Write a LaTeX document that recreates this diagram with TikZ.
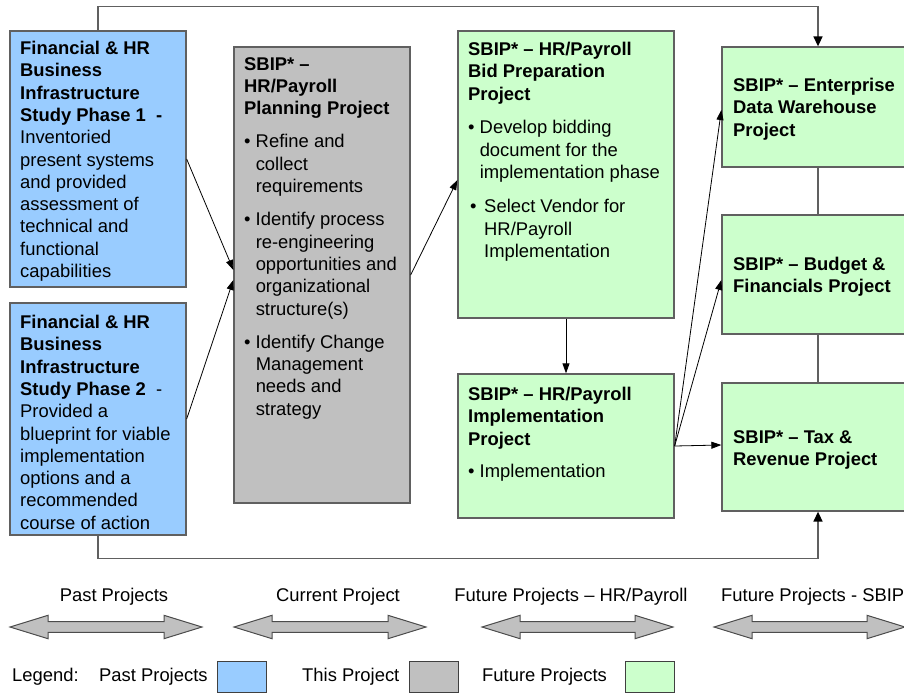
\documentclass[tikz,border=0pt]{standalone}
\usepackage{fontspec}
\setmainfont{Liberation Sans}
\usetikzlibrary{arrows.meta,calc}
\definecolor{pastblue}{HTML}{99CCFF}
\definecolor{thisgray}{HTML}{C0C0C0}
\definecolor{futgreen}{HTML}{CCFFCC}
\definecolor{edgegray}{HTML}{606060}
\tikzset{
  boxbase/.style={draw=edgegray, line width=1.3pt, inner sep=0pt, rectangle},
  pastbox/.style={boxbase, fill=pastblue},
  curbox/.style={boxbase, fill=thisgray},
  futbox/.style={boxbase, fill=futgreen},
  txt/.style={anchor=north west, inner sep=0pt, align=left, font=\fontsize{18.4}{22.3}\selectfont},
  lbl/.style={anchor=base, inner sep=0pt, font=\fontsize{18.4}{22.3}\selectfont},
  lblw/.style={anchor=base west, inner sep=0pt, font=\fontsize{18.4}{22.3}\selectfont},
  conn/.style={draw=edgegray, line width=1.5pt},
  connarr/.style={conn, -{Triangle[length=10pt,width=9pt,color=black]}},
  thinarr/.style={draw=black, line width=0.8pt, -{Triangle[length=10pt,width=7pt]}},
  legsq/.style={draw=black!75, line width=1pt, inner sep=0pt, minimum width=49pt, minimum height=31pt},
  dblarrow/.style={draw=black!70, fill=thisgray, line width=1pt}
}
\begin{document}
\begin{tikzpicture}[x=1pt,y=-1pt]
\useasboundingbox (0,0) rectangle (904,696);
\clip (0,0) rectangle (904,696);

% boxes
\node[pastbox, minimum width=176pt, minimum height=256pt] (b1) at (98,159) {};
\node[pastbox, minimum width=176pt, minimum height=232pt] (b2) at (98,419) {};
\node[curbox, minimum width=176pt, minimum height=456pt] (gp) at (322,275) {};
\node[futbox, minimum width=216pt, minimum height=287pt] (bid) at (566,174.5) {};
\node[futbox, minimum width=216pt, minimum height=144pt] (impl) at (566,446) {};
\node[futbox, minimum width=192pt, minimum height=120pt] (edw) at (818,107) {};
\node[futbox, minimum width=192pt, minimum height=119pt] (bud) at (818,274.5) {};
\node[futbox, minimum width=192pt, minimum height=128pt] (tax) at (818,447) {};

% texts
\node[txt] (t1) at (20,41) {\bfseries Financial \& HR\\ \bfseries Business\\ \bfseries Infrastructure\\ \bfseries Study Phase 1~~-\\ Inventoried\\ present systems\\ and provided\\ assessment of\\ technical and\\ functional\\ capabilities};
\node[txt] (t2) at (20,315) {\bfseries Financial \& HR\\ \bfseries Business\\ \bfseries Infrastructure\\ {\bfseries Study Phase 2}~~-\\ Provided a\\ blueprint for viable\\ implementation\\ options and a\\ recommended\\ course of action};
\node[txt] (t3) at (244,57) {\bfseries SBIP* –\\ \bfseries HR/Payroll\\ \bfseries Planning Project\\[11pt]
• Refine and\\ \hphantom{• }collect\\ \hphantom{• }requirements\\[11pt]
• Identify process\\ \hphantom{• }re-engineering\\ \hphantom{• }opportunities and\\ \hphantom{• }organizational\\ \hphantom{• }structure(s)\\[11pt]
• Identify Change\\ \hphantom{• }Management\\ \hphantom{• }needs and\\ \hphantom{• }strategy};
\node[txt] (t4) at (468,42) {\bfseries SBIP* – HR/Payroll\\ \bfseries Bid Preparation\\ \bfseries Project\\[11.5pt]
• Develop bidding\\ \hphantom{• }document for the\\ \hphantom{• }implementation phase\\[12pt]
\hspace{2pt}•\hspace{7.6pt}Select Vendor for\\ \hspace{16pt}HR/Payroll\\ \hspace{16pt}Implementation};
\node[txt] (t5) at (468,387) {\bfseries SBIP* – HR/Payroll\\ \bfseries Implementation\\ \bfseries Project\\[10pt]
• Implementation};
\node[txt] (t6) at (733,78) {\bfseries SBIP* – Enterprise\\ \bfseries Data Warehouse\\ \bfseries Project};
\node[txt] (t7) at (733,257) {\bfseries SBIP* – Budget \&\\ \bfseries Financials Project};
\node[txt] (t8) at (733,430) {\bfseries SBIP* – Tax \&\\ \bfseries Revenue Project};

% connectors
\draw[connarr] (b1.north) -- ++(0,-24) -| (edw.north);
\draw[connarr] (b2.south) -- ++(0,23) -| (tax.south);
\draw[conn] (edw.south) -- (bud.north);
\draw[conn] (bud.south) -- (tax.north);

\draw[thinarr] (b1.east) -- ([yshift=5pt]gp.west);
\draw[thinarr] (b2.east) -- ([yshift=-5pt]gp.west);
\draw[thinarr] (gp.east) -- ([yshift=-5.5pt]bid.west);
\draw[thinarr] (bid.south) -- (impl.north);
\draw[thinarr] (impl.east) -- ([yshift=-3pt]edw.west);
\draw[thinarr] (impl.east) -- ([yshift=-5.5pt]bud.west);
\draw[thinarr] (impl.east) -- ([yshift=2pt]tax.west);

% timeline double arrows
\foreach \xa/\xb in {10/202, 234/426, 482/673, 714/905}{
  \draw[dblarrow] (\xa,627) -- (\xa+38,615.3) -- (\xa+38,621.7) -- (\xb-38,621.7) -- (\xb-38,615.3)
    -- (\xb,627) -- (\xb-38,638.7) -- (\xb-38,632.3) -- (\xa+38,632.3) -- (\xa+38,638.7) -- cycle;
}
\node[lbl] (p1) at (114,601) {Past Projects};
\node[lbl] (p2) at (338,601) {Current Project};
\node[lbl] (p3) at (571,601) {Future Projects – HR/Payroll};
\node[lblw] (p4) at (721,601) {Future Projects - SBIP};

% legend
\node[lblw] (lg) at (12,681) {Legend:};
\node[lblw] (lg1) at (99,681) {Past Projects};
\node[legsq, fill=pastblue] (sq1) at (241.5,677) {};
\node[lblw] (lg2) at (302,681) {This Project};
\node[legsq, fill=thisgray] (sq2) at (434,677) {};
\node[lblw] (lg3) at (482,681) {Future Projects};
\node[legsq, fill=futgreen] (sq3) at (650,677) {};
\end{tikzpicture}
\end{document}
